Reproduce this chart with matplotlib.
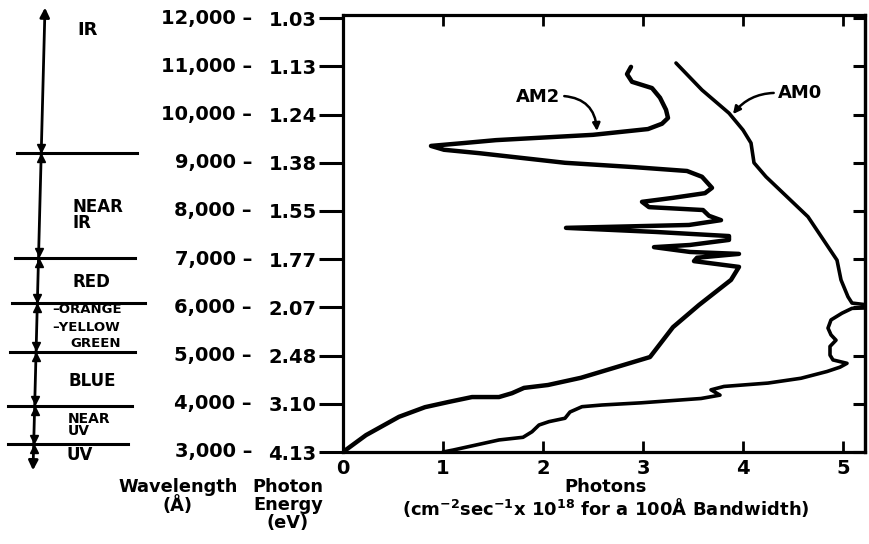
import matplotlib
matplotlib.use("Agg")
import matplotlib.pyplot as plt
from matplotlib import transforms as mtrans

# ---------------- data ----------------
wavelength_ticks = [3000, 4000, 5000, 6000, 7000, 8000, 9000, 10000, 11000, 12000]
energy_labels = ["4.13", "3.10", "2.48", "2.07", "1.77", "1.55", "1.38", "1.24", "1.13", "1.03"]
photon_ticks = [0, 1, 2, 3, 4, 5]

am2_photons = [2.88, 2.84, 2.89, 3.09, 3.17, 3.23, 3.25, 3.19, 3.05, 2.50, 1.53, 1.21, 0.88,
               1.01, 1.36, 2.22, 2.91, 3.44, 3.59, 3.69, 3.62, 3.29, 2.99, 3.06, 3.60, 3.66,
               3.78, 3.46, 2.23, 3.13, 3.86, 3.86, 3.47, 3.11, 3.47, 3.96, 3.54, 3.51, 3.96,
               3.88, 3.56, 3.30, 3.07, 2.38, 2.05, 1.81, 1.69, 1.56, 1.29, 1.06, 0.82, 0.56,
               0.23, 0.00]
am2_wavelength = [10990, 10840, 10680, 10550, 10350, 10100, 9930, 9810, 9700, 9580, 9470, 9410,
                  9350, 9270, 9200, 9000, 8910, 8830, 8710, 8480, 8370, 8270, 8190, 8080, 8020,
                  7900, 7810, 7710, 7650, 7565, 7480, 7400, 7295, 7250, 7150, 7110, 7030, 6960,
                  6840, 6570, 6050, 5590, 4970, 4540, 4390, 4330, 4220, 4140, 4140, 4040, 3930,
                  3730, 3350, 3000]

am0_photons = [3.33, 3.59, 3.86, 4.00, 4.08, 4.11, 4.23, 4.65, 4.94, 4.98, 5.05, 5.09, 5.25,
               5.25, 5.09, 4.99, 4.88, 4.85, 4.88, 4.93, 4.87, 4.87, 4.90, 5.04, 4.97, 4.84,
               4.58, 4.25, 3.81, 3.68, 3.77, 3.58, 2.98, 2.59, 2.39, 2.27, 2.22, 2.06, 1.96,
               1.89, 1.80, 1.56, 1.33, 1.10, 1.00]
am0_wavelength = [11070, 10510, 10030, 9680, 9410, 9000, 8710, 7880, 6980, 6570, 6220, 6090,
                  6050, 5990, 5980, 5880, 5740, 5570, 5430, 5320, 5190, 5010, 4910, 4840, 4760,
                  4670, 4530, 4430, 4360, 4290, 4180, 4110, 4020, 3975, 3940, 3830, 3700, 3630,
                  3560, 3420, 3305, 3250, 3145, 3040, 3000]

band_boundaries = [9200, 7030, 6090, 5080, 3960, 3170]
band_names = ["IR", "NEAR\nIR", "RED", "\u2013ORANGE", "\u2013YELLOW", "GREEN", "BLUE", "NEAR\nUV", "UV"]
band_label_wavelength = [11760, 7920, 6530, 5950, 5580, 5250, 4470, 3560, 2940]

# ---------------- figure ----------------
W, H = 869, 544
plt.rcParams['font.family'] = ['DejaVu Sans']
plt.rcParams['font.weight'] = 'bold'
plt.rcParams['mathtext.default'] = 'bf'

fig = plt.figure(figsize=(W / 100, H / 100), dpi=100)
ax = fig.add_axes([343 / W, 1 - 452 / H, 522 / W, 437 / H])
ax.set_xlim(0, 5.22)
ax.set_ylim(3000, 12066)

for s in ax.spines.values():
    s.set_linewidth(2.3)

ax.plot(am2_photons, am2_wavelength, color='black', lw=3.2, solid_joinstyle='round',
        solid_capstyle='round')
ax.plot(am0_photons, am0_wavelength, color='black', lw=2.6, solid_joinstyle='round',
        solid_capstyle='round')

# y ticks: energy labels on the ticks, wavelength labels as an extra column
ax.set_yticks(wavelength_ticks)
ax.set_yticklabels(energy_labels, fontsize=14, fontweight='bold')
ax.tick_params(axis='y', which='both', direction='out', length=17, width=2.2, pad=2,
               right=False)
secy = ax.secondary_yaxis('right')
secy.set_yticks(wavelength_ticks)
secy.set_yticklabels([])
secy.tick_params(direction='in', length=9, width=2.2)
secy.spines['right'].set_linewidth(2.3)

ax.set_xticks(photon_ticks)
ax.set_xticklabels([str(t) for t in photon_ticks], fontsize=14, fontweight='bold')
ax.tick_params(axis='x', direction='in', length=8, width=2.0, pad=5, top=True)

bt = mtrans.blended_transform_factory(fig.transFigure, ax.transData)
for w in wavelength_ticks:
    ax.text(252 / W, w, f"{w:,} \u2013", transform=bt, ha='right', va='center',
            fontsize=14, fontweight='bold')

# axis titles
fig.text(178 / W, 1 - 478 / H, "Wavelength\n(\u00c5)", ha='center', va='top',
         fontsize=12.8, fontweight='bold', linespacing=1.0)
fig.text(288 / W, 1 - 478 / H, "Photon\nEnergy\n(eV)", ha='center', va='top',
         fontsize=12.8, fontweight='bold', linespacing=1.0)
fig.text(606 / W, 1 - 478 / H,
         "Photons\n(cm$^{-2}$sec$^{-1}$x 10$^{18}$ for a 100\u00c5 Bandwidth)",
         ha='center', va='top', fontsize=13, fontweight='bold', linespacing=1.0)

# annotations
ax.annotate("AM2", xy=(2.54, 9660), xytext=(1.95, 10370), textcoords='data',
            ha='center', va='center', fontsize=13, fontweight='bold',
            arrowprops=dict(arrowstyle='-|>', lw=1.8, color='black', mutation_scale=11,
                            relpos=(1.0, 0.55), shrinkA=1, shrinkB=0,
                            connectionstyle='arc3,rad=-0.45'))
ax.annotate("AM0", xy=(3.9, 10010), xytext=(4.57, 10450), textcoords='data',
            ha='center', va='center', fontsize=13, fontweight='bold',
            arrowprops=dict(arrowstyle='-|>', lw=1.8, color='black', mutation_scale=11,
                            relpos=(0.0, 0.5), shrinkA=1, shrinkB=0,
                            connectionstyle='arc3,rad=0.25'))

# ---------------- spectral band scale ----------------
x_top_px, x_bot_px = 45, 33
w_top, w_bot = 12220, 2620


def xline(w):
    f = (w - w_bot) / (w_top - w_bot)
    return (x_bot_px + f * (x_top_px - x_bot_px)) / W


ax.annotate("", xy=(xline(w_top), w_top), xytext=(xline(w_bot), w_bot), xycoords=bt,
            textcoords=bt, annotation_clip=False,
            arrowprops=dict(arrowstyle='<|-|>', lw=2.0, color='black', mutation_scale=14,
                            shrinkA=0, shrinkB=0))
line_ext = [(17, 137), (15, 135), (12, 145), (10, 135), (8, 132), (8, 128)]
for w, (x1, x2) in zip(band_boundaries, line_ext):
    ax.plot([x1 / W, x2 / W], [w, w], transform=bt, color='black', lw=2.2, clip_on=False)
    xc = xline(w)
    ax.plot([xc], [w + 110], marker='v', ms=6, color='black', transform=bt, clip_on=False)
    ax.plot([xc], [w - 110], marker='^', ms=6, color='black', transform=bt, clip_on=False)

band_x = [77, 73, 72, 52, 52, 70, 68, 68, 67]
band_size = [13, 12, 12, 9.5, 9.5, 9.5, 12, 10, 12]
for name, w, x, fs in zip(band_names, band_label_wavelength, band_x, band_size):
    ax.text(x / W, w, name, transform=bt, ha='left', va='center', fontsize=fs,
            fontweight='bold', linespacing=0.85)

fig.savefig("out.png", dpi=100)
